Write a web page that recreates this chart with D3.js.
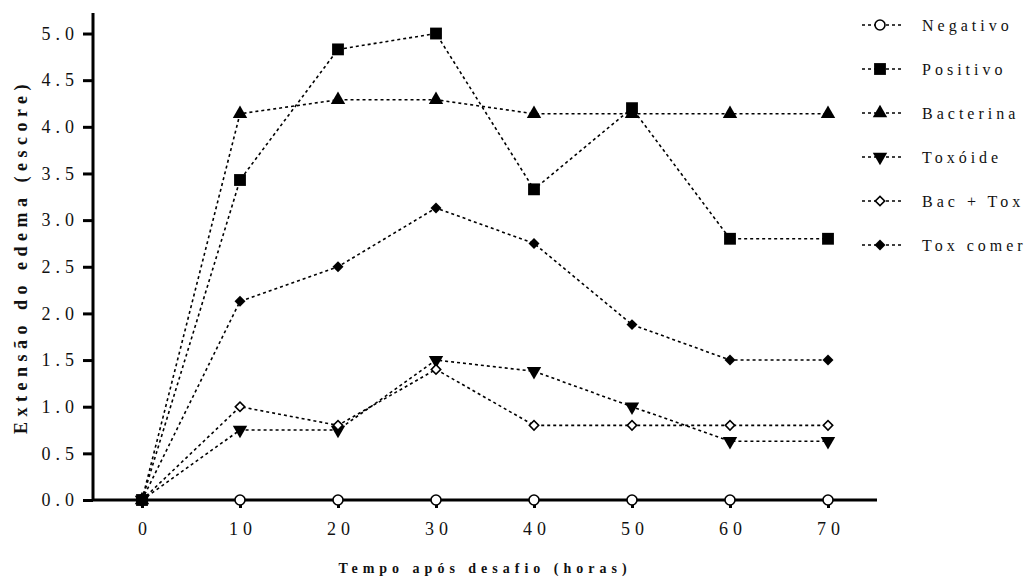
<!DOCTYPE html>
<html>
<head>
<meta charset="utf-8">
<script src="https://cdn.jsdelivr.net/npm/d3@7"></script>
<style>
  body { margin: 0; background: #fff; }
  svg text { font-family: "Liberation Serif", "DejaVu Serif", Times, serif !important; fill: #111; }
</style>
</head>
<body>
<div id="chart"></div>
<script>
// data
var hours = [0, 10, 20, 30, 40, 50, 60, 70];
var negativo  = [0, 0, 0, 0, 0, 0, 0, 0];
var positivo  = [0, 3.43, 4.83, 5.0, 3.33, 4.2, 2.8, 2.8];
var bacterina = [0, 4.14, 4.29, 4.29, 4.14, 4.14, 4.14, 4.14];
var toxoide   = [0, 0.75, 0.75, 1.5, 1.38, 1.0, 0.63, 0.63];
var bacTox    = [0, 1.0, 0.8, 1.4, 0.8, 0.8, 0.8, 0.8];
var toxComer  = [0, 2.13, 2.5, 3.13, 2.75, 1.88, 1.5, 1.5];
var seriesNames = ["Negativo", "Positivo", "Bacterina", "Toxóide", "Bac + Tox", "Tox comer"];
var xTicks = [0, 10, 20, 30, 40, 50, 60, 70];
var yTicks = [0, 0.5, 1, 1.5, 2, 2.5, 3, 3.5, 4, 4.5, 5];

var series = [
  {name: seriesNames[0], values: negativo,  shape: "circle"},
  {name: seriesNames[1], values: positivo,  shape: "square"},
  {name: seriesNames[2], values: bacterina, shape: "up"},
  {name: seriesNames[3], values: toxoide,   shape: "down"},
  {name: seriesNames[4], values: bacTox,    shape: "diamondOpen"},
  {name: seriesNames[5], values: toxComer,  shape: "diamond"}
];

var width = 1036, height = 581;
var plotL = 93, plotR = 877, plotT = 13, plotB = 500;

var svg = d3.select("#chart").append("svg")
    .attr("width", width)
    .attr("height", height);

var x = d3.scaleLinear().domain([-5, 75]).range([plotL, plotR]);
var y = d3.scaleLinear().domain([0, 5.22]).range([plotB, plotT]);

// markers
function drawMarker(sel, shape) {
  if (shape == "circle") {
    sel.append("circle").attr("r", 5).attr("fill", "#fff").attr("stroke", "#000").attr("stroke-width", 1.6);
  } else if (shape == "square") {
    sel.append("path").attr("d", d3.symbol(d3.symbolSquare, 140)()).attr("fill", "#000");
  } else if (shape == "up") {
    sel.append("path").attr("d", d3.symbol(d3.symbolTriangle, 90)()).attr("fill", "#000");
  } else if (shape == "down") {
    sel.append("path").attr("d", d3.symbol(d3.symbolTriangle, 90)()).attr("transform", "rotate(180)").attr("fill", "#000");
  } else if (shape == "diamondOpen") {
    sel.append("path").attr("d", d3.symbol(d3.symbolSquare, 44)()).attr("transform", "rotate(45)")
      .attr("fill", "#fff").attr("stroke", "#000").attr("stroke-width", 1.6);
  } else {
    sel.append("path").attr("d", d3.symbol(d3.symbolSquare, 60)()).attr("transform", "rotate(45)").attr("fill", "#000");
  }
}

var line = d3.line()
    .x(function(d, i) { return x(hours[i]); })
    .y(function(d) { return y(d); });

// axes
var yAxis = svg.append("g")
    .attr("transform", "translate(" + plotL + ",0)")
    .call(d3.axisLeft(y).tickValues(yTicks).tickFormat(d3.format(".1f")).tickSize(10).tickPadding(8));
var xAxis = svg.append("g")
    .attr("transform", "translate(0," + plotB + ")")
    .call(d3.axisBottom(x).tickValues(xTicks).tickSize(8).tickPadding(14));

[xAxis, yAxis].forEach(function(a) {
  a.attr("font-family", null);
  a.select(".domain").attr("stroke", "#000").attr("stroke-width", 3);
  a.selectAll(".tick line").attr("stroke", "#000").attr("stroke-width", 3);
  a.selectAll(".tick text")
    .style("font-size", "18px")
    .style("letter-spacing", "5px")
    .attr("fill", "#222");
});
yAxis.select(".domain").attr("d", "M0," + plotT + "V" + plotB);
xAxis.select(".domain").attr("d", "M" + plotL + ",0H" + plotR);
xAxis.selectAll(".tick text").attr("dx", "2.5px");
yAxis.selectAll(".tick text").attr("dx", "4px");

// lines
var g = svg.append("g");
series.forEach(function(s) {
  g.append("path")
    .attr("d", line(s.values))
    .attr("fill", "none")
    .attr("stroke", "#000")
    .attr("stroke-width", 1.6)
    .attr("stroke-dasharray", "3,3");
});
// Positivo's squares go on top, as in the figure
var drawOrder = [0, 2, 3, 4, 5, 1];
drawOrder.forEach(function(k) {
  var s = series[k];
  s.values.forEach(function(v, i) {
    var m = g.append("g").attr("transform", "translate(" + x(hours[i]) + "," + y(v) + ")");
    drawMarker(m, s.shape);
  });
});

// axis titles
svg.append("text")
    .attr("transform", "translate(27," + ((plotT + plotB) / 2) + ") rotate(-90)")
    .attr("text-anchor", "middle")
    .style("font-size", "18px")
    .style("font-weight", "bold")
    .style("letter-spacing", "5.5px")
    .text("Extensão do edema (escore)");

svg.append("text")
    .attr("x", (plotL + plotR) / 2)
    .attr("y", 573)
    .attr("text-anchor", "middle")
    .style("font-size", "14px")
    .style("font-weight", "bold")
    .style("letter-spacing", "5px")
    .text("Tempo após desafio (horas)");

// legend
var legend = svg.append("g").attr("transform", "translate(880,25)");
series.forEach(function(s, i) {
  var row = legend.append("g").attr("transform", "translate(0," + i * 44 + ")");
  row.append("line")
    .attr("x1", -18).attr("x2", 22)
    .attr("stroke", "#000").attr("stroke-width", 1.6)
    .attr("stroke-dasharray", "3,3");
  drawMarker(row, s.shape);
  row.append("text")
    .attr("x", 42)
    .attr("dy", "0.35em")
    .style("font-size", "16px")
    .style("letter-spacing", "4px")
    .text(s.name);
});
</script>
</body>
</html>
